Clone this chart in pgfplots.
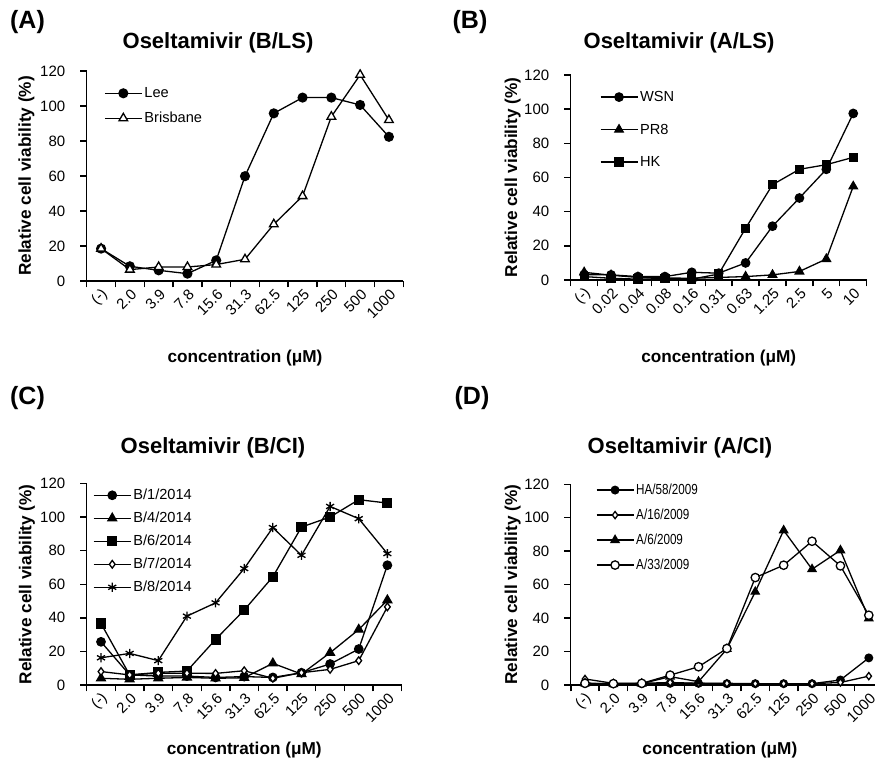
\documentclass[border=0pt]{standalone}
\usepackage{fontspec}
\setmainfont{Liberation Sans}
\newfontfamily\narrowfont[FakeStretch=0.8]{Liberation Sans}
\usepackage{pgfplots}
\pgfplotsset{compat=1.18}

% 1 px of the reference = 0.5pt; origin at the top-left corner
\pgfplotsset{
  panel/.style={
    scale only axis,
    axis x line*=bottom,
    axis y line*=left,
    axis line style={line width=0.6pt},
    clip=false,
    xmin=-0.5, xmax=10.5, ymin=0, ymax=120,
    ytick={0,20,...,120},
    % ticks between the categories, names at the centres
    xtick={-0.5,0.5,...,10.5},
    x tick label as interval,
    xtick pos=bottom, ytick pos=left,
    xtick align=outside, ytick align=outside,
    major tick length=3.2pt,
    every tick/.style={black, line width=0.7pt},
    /pgf/number format/assume math mode=true,
    tick label style={font=\fontsize{7.5}{9}\selectfont},
    yticklabel style={xshift=-4pt},
    xticklabel style={rotate=45, anchor=east, inner sep=1pt, yshift=-3pt, xshift=1pt},
    ylabel={\bfseries Relative cell viability (\%)},
    xlabel={\bfseries concentration (μM)},
    label style={font=\fontsize{8.6}{10}\selectfont},
    legend style={draw=none, fill=none, anchor=north west,
      font=\fontsize{7.3}{8}\selectfont,
      nodes={inner sep=1pt, text height=6pt, text depth=1.5pt}},
    legend cell align=left,
    legend image code/.code={\draw[mark repeat=2,mark phase=2]
      plot coordinates {(0pt,0pt) (9.25pt,0pt) (18.5pt,0pt)};},
  },
  ser/.style={black, line width=0.65pt},
  lowconc/.style={xticklabels={(-),2.0,3.9,7.8,15.6,31.3,62.5,125,250,500,1000,}},
}

\begin{document}
\begin{tikzpicture}
\useasboundingbox (0pt,0pt) rectangle (437.5pt,-382.5pt);

% ---------- (A)
\node[font=\bfseries\fontsize{12.5}{14}\selectfont] at (13.75pt,-11pt) {(A)};
\node[font=\bfseries\fontsize{11}{13}\selectfont] at (109pt,-21.5pt) {Oseltamivir (B/LS)};
\begin{axis}[panel, lowconc,
  at={(43.35pt,-140.5pt)}, anchor=south west,
  width=158.3pt, height=105pt,
  ylabel style={at={(axis description cs:-0.19,0.5)}, anchor=center},
  xlabel style={at={(axis description cs:0.5,0)}, anchor=center, yshift=-38.5pt},
  legend style={at={(axis description cs:0.035,0.96)}, row sep=3pt},
]
\addplot[ser, mark=*, mark size=2.2pt] coordinates {
  (0,18.5) (1,8.4) (2,6.1) (3,4.2) (4,11.8) (5,59.9)
  (6,95.8) (7,104.8) (8,104.8) (9,100.6) (10,82.4)};
\addplot[ser, mark=triangle*, mark size=2.5pt, mark options={fill=white}] coordinates {
  (0,18.5) (1,6.5) (2,8.0) (3,8.0) (4,9.4) (5,12.4)
  (6,32.4) (7,48.5) (8,93.9) (9,117.8) (10,92.0)};
\legend{Lee, Brisbane}
\end{axis}

% ---------- (B)
\node[font=\bfseries\fontsize{12.5}{14}\selectfont] at (235pt,-11pt) {(B)};
\node[font=\bfseries\fontsize{11}{13}\selectfont] at (339.5pt,-21.5pt) {Oseltamivir (A/LS)};
\begin{axis}[panel,
  xticklabels={(-),0.02,0.04,0.08,0.16,0.31,0.63,1.25,2.5,5,10,},
  at={(285.35pt,-140pt)}, anchor=south west,
  width=148pt, height=102.5pt,
  ylabel style={at={(axis description cs:-0.196,0.5)}, anchor=center},
  xlabel style={at={(axis description cs:0.5,0)}, anchor=center, yshift=-39pt},
  legend style={at={(axis description cs:0.077,0.96)}, row sep=6.75pt},
]
\addplot[ser, mark=*, mark size=2.1pt] coordinates {
  (0,3.2) (1,3.0) (2,2.0) (3,2.0) (4,4.5) (5,4.0)
  (6,10.0) (7,31.5) (8,48.0) (9,64.8) (10,97.5)};
\addplot[ser, mark=triangle*, mark size=2.4pt] coordinates {
  (0,4.5) (1,2.8) (2,1.5) (3,1.2) (4,1.0) (5,1.5)
  (6,2.0) (7,3.0) (8,5.0) (9,12.3) (10,54.8)};
\addplot[ser, mark=square*, mark size=2pt] coordinates {
  (0,2.0) (1,1.0) (2,0.5) (3,0.8) (4,0.5) (5,3.5)
  (6,30.3) (7,55.8) (8,64.8) (9,67.5) (10,71.8)};
\legend{WSN, PR8, HK}
\end{axis}

% ---------- (C)
\node[font=\bfseries\fontsize{12.5}{14}\selectfont] at (13.75pt,-199pt) {(C)};
\node[font=\bfseries\fontsize{11}{13}\selectfont] at (106.5pt,-224pt) {Oseltamivir (B/CI)};
\begin{axis}[panel, lowconc,
  at={(43.35pt,-342.5pt)}, anchor=south west,
  width=157.5pt, height=100.8pt,
  ylabel style={at={(axis description cs:-0.19,0.5)}, anchor=center},
  xlabel style={at={(axis description cs:0.5,0)}, anchor=center, yshift=-32.5pt},
  legend style={at={(axis description cs:0.0,1.01)}, row sep=2pt},
]
\addplot[ser, mark=*, mark size=2.1pt] coordinates {
  (0,25.7) (1,6.0) (2,5.3) (3,5.3) (4,4.5) (5,5.0)
  (6,4.5) (7,7.3) (8,12.5) (9,21.4) (10,71.3)};
\addplot[ser, mark=triangle*, mark size=2.5pt] coordinates {
  (0,4.0) (1,3.4) (2,4.0) (3,4.5) (4,4.0) (5,4.3)
  (6,12.9) (7,6.5) (8,19.2) (9,33.0) (10,50.5)};
\addplot[ser, mark=square*, mark size=2.2pt] coordinates {
  (0,36.6) (1,6.0) (2,7.5) (3,8.3) (4,27.1) (5,44.6)
  (6,64.4) (7,94.0) (8,100.0) (9,110.3) (10,108.3)};
\addplot[ser, mark=diamond*, mark size=1.9pt, mark options={fill=white}] coordinates {
  (0,8.0) (1,6.0) (2,7.0) (3,7.0) (4,6.9) (5,8.5)
  (6,4.0) (7,7.3) (8,9.3) (9,14.5) (10,46.5)};
\addplot[ser, mark=asterisk, mark size=2.3pt] coordinates {
  (0,16.2) (1,18.8) (2,14.5) (3,41.0) (4,48.9) (5,69.3)
  (6,93.7) (7,77.2) (8,106.3) (9,99.0) (10,78.2)};
\legend{B/1/2014, B/4/2014, B/6/2014, B/7/2014, B/8/2014}
\end{axis}

% ---------- (D)
\node[font=\bfseries\fontsize{12.5}{14}\selectfont] at (236pt,-199pt) {(D)};
\node[font=\bfseries\fontsize{11}{13}\selectfont] at (340pt,-224pt) {Oseltamivir (A/CI)};
\begin{axis}[panel, lowconc,
  at={(285.4pt,-342.5pt)}, anchor=south west,
  width=156.1pt, height=100.4pt,
  ylabel style={at={(axis description cs:-0.186,0.5)}, anchor=center},
  xlabel style={at={(axis description cs:0.5,0)}, anchor=center, yshift=-32.5pt, xshift=-3.5pt},
  legend style={at={(axis description cs:0.06,1.04)}, row sep=3pt,
    font=\narrowfont\fontsize{7.3}{8}\selectfont},
]
\addplot[ser, mark=*, mark size=1.9pt] coordinates {
  (0,1.0) (1,0.8) (2,0.8) (3,1.0) (4,1.0) (5,0.8)
  (6,0.8) (7,0.8) (8,0.8) (9,3.0) (10,16.2)};
\addplot[ser, mark=diamond*, mark size=1.8pt, mark options={fill=white}] coordinates {
  (0,3.6) (1,1.0) (2,1.0) (3,1.5) (4,1.0) (5,1.0)
  (6,0.8) (7,0.8) (8,0.8) (9,1.5) (10,5.3)};
\addplot[ser, mark=triangle*, mark size=2.3pt] coordinates {
  (0,1.0) (1,0.5) (2,0.8) (3,5.0) (4,2.0) (5,21.5)
  (6,55.7) (7,92.4) (8,69.2) (9,80.5) (10,39.8)};
\addplot[ser, mark=*, mark size=2.1pt, mark options={fill=white}] coordinates {
  (0,1.0) (1,0.8) (2,1.0) (3,5.9) (4,10.9) (5,21.8)
  (6,64.2) (7,71.6) (8,85.9) (9,71.2) (10,41.7)};
\legend{HA/58/2009, A/16/2009, A/6/2009, A/33/2009}
\end{axis}
\end{tikzpicture}
\end{document}
